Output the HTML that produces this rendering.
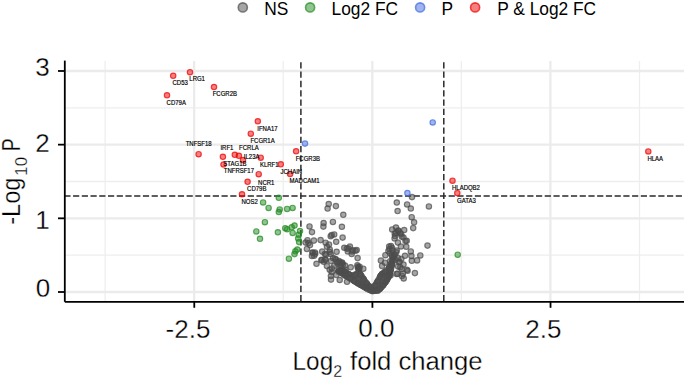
<!DOCTYPE html>
<html><head><meta charset="utf-8"><style>
html,body{margin:0;padding:0;background:#fff;width:685px;height:379px;overflow:hidden}
svg{display:block}
text{font-family:"Liberation Sans",sans-serif}
.gmin{stroke:#eeeeee;stroke-width:1.3}
.gmaj{stroke:#ebebeb;stroke-width:2.3}
.ax{stroke:#000;stroke-width:1.8;stroke-linecap:butt}
.dsh{stroke:#2a2a2a;stroke-width:1.5}
.lab text{font-size:6.55px;fill:#000;stroke:#000;stroke-width:.18px}
.leg{font-size:18.5px;fill:#000}
.tk{font-size:26px;fill:#000;stroke:#fff;stroke-width:.3px}
</style></head><body>
<svg width="685" height="379" viewBox="0 0 685 379">
<g><line x1="105.11" y1="61.0" x2="105.11" y2="301.8" class="gmin"/><line x1="283.24" y1="61.0" x2="283.24" y2="301.8" class="gmin"/><line x1="461.36" y1="61.0" x2="461.36" y2="301.8" class="gmin"/><line x1="639.49" y1="61.0" x2="639.49" y2="301.8" class="gmin"/><line x1="64.8" y1="255.16" x2="684" y2="255.16" class="gmin"/><line x1="64.8" y1="181.50" x2="684" y2="181.50" class="gmin"/><line x1="64.8" y1="107.82" x2="684" y2="107.82" class="gmin"/><line x1="194.18" y1="61.0" x2="194.18" y2="301.8" class="gmaj"/><line x1="372.30" y1="61.0" x2="372.30" y2="301.8" class="gmaj"/><line x1="550.42" y1="61.0" x2="550.42" y2="301.8" class="gmaj"/><line x1="64.8" y1="292.00" x2="684" y2="292.00" class="gmaj"/><line x1="64.8" y1="218.33" x2="684" y2="218.33" class="gmaj"/><line x1="64.8" y1="144.66" x2="684" y2="144.66" class="gmaj"/><line x1="64.8" y1="70.99" x2="684" y2="70.99" class="gmaj"/></g>
<g><line x1="64.3" y1="196.1" x2="684" y2="196.1" class="dsh" stroke-dasharray="6.2 2.535"/><line x1="300.9" y1="62.2" x2="300.9" y2="301.8" class="dsh" stroke-dasharray="6.3 3.016"/><line x1="443.8" y1="62.2" x2="443.8" y2="301.8" class="dsh" stroke-dasharray="6.3 3.016"/></g>
<g><path d="M335.3,271.4 L336.8,269.1 L339.9,267.5 L344.5,268.3 L348.3,270.6 L352.1,272.9 L355.9,271.4 L356.7,265.5 L358.5,263.8 L360.5,265.2 L361.3,270.6 L364.4,275.2 L367.4,279.8 L370.5,283.6 L372,285.1 L373.5,282.8 L376.6,277.5 L378.9,273 L381.5,270.8 L385.7,267.9 L388,264.1 L390.3,259.5 L391.5,255 L392.5,252 L395,254 L395.2,262.5 L393.8,268.7 L392,276.3 L388.8,282.4 L384.2,288.6 L379.6,293 L375.1,293.5 L372,293.9 L366.5,291.6 L361,288.3 L355.2,285 L350.6,282 L346.5,279.5 L341.4,276.5 L337.6,273.5 Z" fill="#565656" stroke="#565656" stroke-width="1" stroke-linejoin="round"/><circle cx="338.5" cy="271.8" r="2.7" fill="#4d4d4d" fill-opacity=".5" stroke="#4d4d4d" stroke-opacity="0.72" stroke-width="1.15"/><circle cx="339.7" cy="270.9" r="2.7" fill="#4d4d4d" fill-opacity=".5" stroke="#4d4d4d" stroke-opacity="0.72" stroke-width="1.15"/><circle cx="341.7" cy="270.8" r="2.7" fill="#4d4d4d" fill-opacity=".5" stroke="#4d4d4d" stroke-opacity="0.72" stroke-width="1.15"/><circle cx="344.9" cy="271.9" r="2.7" fill="#4d4d4d" fill-opacity=".5" stroke="#4d4d4d" stroke-opacity="0.72" stroke-width="1.15"/><circle cx="348.7" cy="274.2" r="2.7" fill="#4d4d4d" fill-opacity=".5" stroke="#4d4d4d" stroke-opacity="0.72" stroke-width="1.15"/><circle cx="355.1" cy="274.8" r="2.7" fill="#4d4d4d" fill-opacity=".5" stroke="#4d4d4d" stroke-opacity="0.72" stroke-width="1.15"/><circle cx="359.2" cy="268.8" r="2.7" fill="#4d4d4d" fill-opacity=".5" stroke="#4d4d4d" stroke-opacity="0.72" stroke-width="1.15"/><circle cx="359.6" cy="266.8" r="2.7" fill="#4d4d4d" fill-opacity=".5" stroke="#4d4d4d" stroke-opacity="0.72" stroke-width="1.15"/><circle cx="357.8" cy="266.9" r="2.7" fill="#4d4d4d" fill-opacity=".5" stroke="#4d4d4d" stroke-opacity="0.72" stroke-width="1.15"/><circle cx="358.0" cy="268.3" r="2.7" fill="#4d4d4d" fill-opacity=".5" stroke="#4d4d4d" stroke-opacity="0.72" stroke-width="1.15"/><circle cx="360.4" cy="274.5" r="2.7" fill="#4d4d4d" fill-opacity=".5" stroke="#4d4d4d" stroke-opacity="0.72" stroke-width="1.15"/><circle cx="363.5" cy="279.1" r="2.7" fill="#4d4d4d" fill-opacity=".5" stroke="#4d4d4d" stroke-opacity="0.72" stroke-width="1.15"/><circle cx="366.7" cy="283.5" r="2.7" fill="#4d4d4d" fill-opacity=".5" stroke="#4d4d4d" stroke-opacity="0.72" stroke-width="1.15"/><circle cx="369.2" cy="286.4" r="2.7" fill="#4d4d4d" fill-opacity=".5" stroke="#4d4d4d" stroke-opacity="0.72" stroke-width="1.15"/><circle cx="375.2" cy="285.5" r="2.7" fill="#4d4d4d" fill-opacity=".5" stroke="#4d4d4d" stroke-opacity="0.72" stroke-width="1.15"/><circle cx="377.6" cy="281.6" r="2.7" fill="#4d4d4d" fill-opacity=".5" stroke="#4d4d4d" stroke-opacity="0.72" stroke-width="1.15"/><circle cx="380.3" cy="276.6" r="2.7" fill="#4d4d4d" fill-opacity=".5" stroke="#4d4d4d" stroke-opacity="0.72" stroke-width="1.15"/><circle cx="382.1" cy="274.1" r="2.7" fill="#4d4d4d" fill-opacity=".5" stroke="#4d4d4d" stroke-opacity="0.72" stroke-width="1.15"/><circle cx="385.2" cy="271.7" r="2.7" fill="#4d4d4d" fill-opacity=".5" stroke="#4d4d4d" stroke-opacity="0.72" stroke-width="1.15"/><circle cx="389.3" cy="267.5" r="2.7" fill="#4d4d4d" fill-opacity=".5" stroke="#4d4d4d" stroke-opacity="0.72" stroke-width="1.15"/><circle cx="391.7" cy="263.1" r="2.7" fill="#4d4d4d" fill-opacity=".5" stroke="#4d4d4d" stroke-opacity="0.72" stroke-width="1.15"/><circle cx="393.7" cy="258.0" r="2.7" fill="#4d4d4d" fill-opacity=".5" stroke="#4d4d4d" stroke-opacity="0.72" stroke-width="1.15"/><circle cx="394.8" cy="254.4" r="2.7" fill="#4d4d4d" fill-opacity=".5" stroke="#4d4d4d" stroke-opacity="0.72" stroke-width="1.15"/><circle cx="391.9" cy="255.3" r="2.7" fill="#4d4d4d" fill-opacity=".5" stroke="#4d4d4d" stroke-opacity="0.72" stroke-width="1.15"/><circle cx="392.2" cy="256.2" r="2.7" fill="#4d4d4d" fill-opacity=".5" stroke="#4d4d4d" stroke-opacity="0.72" stroke-width="1.15"/><circle cx="392.3" cy="260.4" r="2.7" fill="#4d4d4d" fill-opacity=".5" stroke="#4d4d4d" stroke-opacity="0.72" stroke-width="1.15"/><circle cx="391.7" cy="265.0" r="2.7" fill="#4d4d4d" fill-opacity=".5" stroke="#4d4d4d" stroke-opacity="0.72" stroke-width="1.15"/><circle cx="390.5" cy="269.9" r="2.7" fill="#4d4d4d" fill-opacity=".5" stroke="#4d4d4d" stroke-opacity="0.72" stroke-width="1.15"/><circle cx="389.6" cy="273.7" r="2.7" fill="#4d4d4d" fill-opacity=".5" stroke="#4d4d4d" stroke-opacity="0.72" stroke-width="1.15"/><circle cx="388.6" cy="276.5" r="2.7" fill="#4d4d4d" fill-opacity=".5" stroke="#4d4d4d" stroke-opacity="0.72" stroke-width="1.15"/><circle cx="387.0" cy="279.5" r="2.7" fill="#4d4d4d" fill-opacity=".5" stroke="#4d4d4d" stroke-opacity="0.72" stroke-width="1.15"/><circle cx="385.3" cy="282.2" r="2.7" fill="#4d4d4d" fill-opacity=".5" stroke="#4d4d4d" stroke-opacity="0.72" stroke-width="1.15"/><circle cx="383.0" cy="285.3" r="2.7" fill="#4d4d4d" fill-opacity=".5" stroke="#4d4d4d" stroke-opacity="0.72" stroke-width="1.15"/><circle cx="379.9" cy="288.7" r="2.7" fill="#4d4d4d" fill-opacity=".5" stroke="#4d4d4d" stroke-opacity="0.72" stroke-width="1.15"/><circle cx="377.0" cy="290.4" r="2.7" fill="#4d4d4d" fill-opacity=".5" stroke="#4d4d4d" stroke-opacity="0.72" stroke-width="1.15"/><circle cx="373.2" cy="290.8" r="2.7" fill="#4d4d4d" fill-opacity=".5" stroke="#4d4d4d" stroke-opacity="0.72" stroke-width="1.15"/><circle cx="370.4" cy="290.1" r="2.7" fill="#4d4d4d" fill-opacity=".5" stroke="#4d4d4d" stroke-opacity="0.72" stroke-width="1.15"/><circle cx="366.6" cy="288.3" r="2.7" fill="#4d4d4d" fill-opacity=".5" stroke="#4d4d4d" stroke-opacity="0.72" stroke-width="1.15"/><circle cx="363.9" cy="286.6" r="2.7" fill="#4d4d4d" fill-opacity=".5" stroke="#4d4d4d" stroke-opacity="0.72" stroke-width="1.15"/><circle cx="361.0" cy="285.0" r="2.7" fill="#4d4d4d" fill-opacity=".5" stroke="#4d4d4d" stroke-opacity="0.72" stroke-width="1.15"/><circle cx="358.1" cy="283.3" r="2.7" fill="#4d4d4d" fill-opacity=".5" stroke="#4d4d4d" stroke-opacity="0.72" stroke-width="1.15"/><circle cx="354.5" cy="281.1" r="2.7" fill="#4d4d4d" fill-opacity=".5" stroke="#4d4d4d" stroke-opacity="0.72" stroke-width="1.15"/><circle cx="350.1" cy="278.3" r="2.7" fill="#4d4d4d" fill-opacity=".5" stroke="#4d4d4d" stroke-opacity="0.72" stroke-width="1.15"/><circle cx="345.4" cy="275.5" r="2.7" fill="#4d4d4d" fill-opacity=".5" stroke="#4d4d4d" stroke-opacity="0.72" stroke-width="1.15"/><circle cx="341.3" cy="272.7" r="2.7" fill="#4d4d4d" fill-opacity=".5" stroke="#4d4d4d" stroke-opacity="0.72" stroke-width="1.15"/><circle cx="338.4" cy="270.3" r="2.7" fill="#4d4d4d" fill-opacity=".5" stroke="#4d4d4d" stroke-opacity="0.72" stroke-width="1.15"/><circle cx="328.7" cy="204.0" r="2.7" fill="#4d4d4d" fill-opacity=".5" stroke="#4d4d4d" stroke-opacity="0.72" stroke-width="1.15"/><circle cx="327.6" cy="208.5" r="2.7" fill="#4d4d4d" fill-opacity=".5" stroke="#4d4d4d" stroke-opacity="0.72" stroke-width="1.15"/><circle cx="335.9" cy="206.1" r="2.7" fill="#4d4d4d" fill-opacity=".5" stroke="#4d4d4d" stroke-opacity="0.72" stroke-width="1.15"/><circle cx="343.3" cy="214.8" r="2.7" fill="#4d4d4d" fill-opacity=".5" stroke="#4d4d4d" stroke-opacity="0.72" stroke-width="1.15"/><circle cx="323.6" cy="223.0" r="2.7" fill="#4d4d4d" fill-opacity=".5" stroke="#4d4d4d" stroke-opacity="0.72" stroke-width="1.15"/><circle cx="323.4" cy="226.6" r="2.7" fill="#4d4d4d" fill-opacity=".5" stroke="#4d4d4d" stroke-opacity="0.72" stroke-width="1.15"/><circle cx="332.9" cy="221.9" r="2.7" fill="#4d4d4d" fill-opacity=".5" stroke="#4d4d4d" stroke-opacity="0.72" stroke-width="1.15"/><circle cx="309.5" cy="226.4" r="2.7" fill="#4d4d4d" fill-opacity=".5" stroke="#4d4d4d" stroke-opacity="0.72" stroke-width="1.15"/><circle cx="312.0" cy="232.1" r="2.7" fill="#4d4d4d" fill-opacity=".5" stroke="#4d4d4d" stroke-opacity="0.72" stroke-width="1.15"/><circle cx="341.9" cy="226.8" r="2.7" fill="#4d4d4d" fill-opacity=".5" stroke="#4d4d4d" stroke-opacity="0.72" stroke-width="1.15"/><circle cx="331.7" cy="234.9" r="2.7" fill="#4d4d4d" fill-opacity=".5" stroke="#4d4d4d" stroke-opacity="0.72" stroke-width="1.15"/><circle cx="334.2" cy="234.4" r="2.7" fill="#4d4d4d" fill-opacity=".5" stroke="#4d4d4d" stroke-opacity="0.72" stroke-width="1.15"/><circle cx="412.0" cy="197.1" r="2.7" fill="#4d4d4d" fill-opacity=".5" stroke="#4d4d4d" stroke-opacity="0.72" stroke-width="1.15"/><circle cx="396.8" cy="202.5" r="2.7" fill="#4d4d4d" fill-opacity=".5" stroke="#4d4d4d" stroke-opacity="0.72" stroke-width="1.15"/><circle cx="407.1" cy="204.4" r="2.7" fill="#4d4d4d" fill-opacity=".5" stroke="#4d4d4d" stroke-opacity="0.72" stroke-width="1.15"/><circle cx="410.8" cy="208.5" r="2.7" fill="#4d4d4d" fill-opacity=".5" stroke="#4d4d4d" stroke-opacity="0.72" stroke-width="1.15"/><circle cx="428.9" cy="206.4" r="2.7" fill="#4d4d4d" fill-opacity=".5" stroke="#4d4d4d" stroke-opacity="0.72" stroke-width="1.15"/><circle cx="397.6" cy="211.0" r="2.7" fill="#4d4d4d" fill-opacity=".5" stroke="#4d4d4d" stroke-opacity="0.72" stroke-width="1.15"/><circle cx="411.7" cy="217.2" r="2.7" fill="#4d4d4d" fill-opacity=".5" stroke="#4d4d4d" stroke-opacity="0.72" stroke-width="1.15"/><circle cx="414.1" cy="222.3" r="2.7" fill="#4d4d4d" fill-opacity=".5" stroke="#4d4d4d" stroke-opacity="0.72" stroke-width="1.15"/><circle cx="413.2" cy="228.1" r="2.7" fill="#4d4d4d" fill-opacity=".5" stroke="#4d4d4d" stroke-opacity="0.72" stroke-width="1.15"/><circle cx="392.2" cy="229.4" r="2.7" fill="#4d4d4d" fill-opacity=".5" stroke="#4d4d4d" stroke-opacity="0.72" stroke-width="1.15"/><circle cx="398.2" cy="230.4" r="2.7" fill="#4d4d4d" fill-opacity=".5" stroke="#4d4d4d" stroke-opacity="0.72" stroke-width="1.15"/><circle cx="404.2" cy="230.0" r="2.7" fill="#4d4d4d" fill-opacity=".5" stroke="#4d4d4d" stroke-opacity="0.72" stroke-width="1.15"/><circle cx="342.6" cy="237.6" r="2.7" fill="#4d4d4d" fill-opacity=".5" stroke="#4d4d4d" stroke-opacity="0.72" stroke-width="1.15"/><circle cx="336.2" cy="241.8" r="2.7" fill="#4d4d4d" fill-opacity=".5" stroke="#4d4d4d" stroke-opacity="0.72" stroke-width="1.15"/><circle cx="320.6" cy="240.1" r="2.7" fill="#4d4d4d" fill-opacity=".5" stroke="#4d4d4d" stroke-opacity="0.72" stroke-width="1.15"/><circle cx="313.9" cy="240.6" r="2.7" fill="#4d4d4d" fill-opacity=".5" stroke="#4d4d4d" stroke-opacity="0.72" stroke-width="1.15"/><circle cx="305.6" cy="242.6" r="2.7" fill="#4d4d4d" fill-opacity=".5" stroke="#4d4d4d" stroke-opacity="0.72" stroke-width="1.15"/><circle cx="310.0" cy="245.1" r="2.7" fill="#4d4d4d" fill-opacity=".5" stroke="#4d4d4d" stroke-opacity="0.72" stroke-width="1.15"/><circle cx="325.6" cy="242.7" r="2.7" fill="#4d4d4d" fill-opacity=".5" stroke="#4d4d4d" stroke-opacity="0.72" stroke-width="1.15"/><circle cx="327.0" cy="246.8" r="2.7" fill="#4d4d4d" fill-opacity=".5" stroke="#4d4d4d" stroke-opacity="0.72" stroke-width="1.15"/><circle cx="322.2" cy="251.6" r="2.7" fill="#4d4d4d" fill-opacity=".5" stroke="#4d4d4d" stroke-opacity="0.72" stroke-width="1.15"/><circle cx="329.8" cy="249.6" r="2.7" fill="#4d4d4d" fill-opacity=".5" stroke="#4d4d4d" stroke-opacity="0.72" stroke-width="1.15"/><circle cx="336.6" cy="251.8" r="2.7" fill="#4d4d4d" fill-opacity=".5" stroke="#4d4d4d" stroke-opacity="0.72" stroke-width="1.15"/><circle cx="312.4" cy="252.6" r="2.7" fill="#4d4d4d" fill-opacity=".5" stroke="#4d4d4d" stroke-opacity="0.72" stroke-width="1.15"/><circle cx="314.1" cy="255.7" r="2.7" fill="#4d4d4d" fill-opacity=".5" stroke="#4d4d4d" stroke-opacity="0.72" stroke-width="1.15"/><circle cx="344.3" cy="247.8" r="2.7" fill="#4d4d4d" fill-opacity=".5" stroke="#4d4d4d" stroke-opacity="0.72" stroke-width="1.15"/><circle cx="349.9" cy="246.6" r="2.7" fill="#4d4d4d" fill-opacity=".5" stroke="#4d4d4d" stroke-opacity="0.72" stroke-width="1.15"/><circle cx="353.1" cy="250.3" r="2.7" fill="#4d4d4d" fill-opacity=".5" stroke="#4d4d4d" stroke-opacity="0.72" stroke-width="1.15"/><circle cx="356.7" cy="249.9" r="2.7" fill="#4d4d4d" fill-opacity=".5" stroke="#4d4d4d" stroke-opacity="0.72" stroke-width="1.15"/><circle cx="351.7" cy="253.9" r="2.7" fill="#4d4d4d" fill-opacity=".5" stroke="#4d4d4d" stroke-opacity="0.72" stroke-width="1.15"/><circle cx="357.6" cy="258.1" r="2.7" fill="#4d4d4d" fill-opacity=".5" stroke="#4d4d4d" stroke-opacity="0.72" stroke-width="1.15"/><circle cx="321.7" cy="259.8" r="2.7" fill="#4d4d4d" fill-opacity=".5" stroke="#4d4d4d" stroke-opacity="0.72" stroke-width="1.15"/><circle cx="325.6" cy="260.1" r="2.7" fill="#4d4d4d" fill-opacity=".5" stroke="#4d4d4d" stroke-opacity="0.72" stroke-width="1.15"/><circle cx="316.5" cy="263.8" r="2.7" fill="#4d4d4d" fill-opacity=".5" stroke="#4d4d4d" stroke-opacity="0.72" stroke-width="1.15"/><circle cx="335.0" cy="258.7" r="2.7" fill="#4d4d4d" fill-opacity=".5" stroke="#4d4d4d" stroke-opacity="0.72" stroke-width="1.15"/><circle cx="339.8" cy="262.4" r="2.7" fill="#4d4d4d" fill-opacity=".5" stroke="#4d4d4d" stroke-opacity="0.72" stroke-width="1.15"/><circle cx="326.9" cy="266.1" r="2.7" fill="#4d4d4d" fill-opacity=".5" stroke="#4d4d4d" stroke-opacity="0.72" stroke-width="1.15"/><circle cx="331.9" cy="268.6" r="2.7" fill="#4d4d4d" fill-opacity=".5" stroke="#4d4d4d" stroke-opacity="0.72" stroke-width="1.15"/><circle cx="340.4" cy="265.4" r="2.7" fill="#4d4d4d" fill-opacity=".5" stroke="#4d4d4d" stroke-opacity="0.72" stroke-width="1.15"/><circle cx="350.7" cy="267.3" r="2.7" fill="#4d4d4d" fill-opacity=".5" stroke="#4d4d4d" stroke-opacity="0.72" stroke-width="1.15"/><circle cx="342.0" cy="270.9" r="2.7" fill="#4d4d4d" fill-opacity=".5" stroke="#4d4d4d" stroke-opacity="0.72" stroke-width="1.15"/><circle cx="345.7" cy="273.9" r="2.7" fill="#4d4d4d" fill-opacity=".5" stroke="#4d4d4d" stroke-opacity="0.72" stroke-width="1.15"/><circle cx="330.9" cy="276.0" r="2.7" fill="#4d4d4d" fill-opacity=".5" stroke="#4d4d4d" stroke-opacity="0.72" stroke-width="1.15"/><circle cx="339.7" cy="280.0" r="2.7" fill="#4d4d4d" fill-opacity=".5" stroke="#4d4d4d" stroke-opacity="0.72" stroke-width="1.15"/><circle cx="347.0" cy="281.8" r="2.7" fill="#4d4d4d" fill-opacity=".5" stroke="#4d4d4d" stroke-opacity="0.72" stroke-width="1.15"/><circle cx="357.4" cy="265.3" r="2.7" fill="#4d4d4d" fill-opacity=".5" stroke="#4d4d4d" stroke-opacity="0.72" stroke-width="1.15"/><circle cx="363.3" cy="268.7" r="2.7" fill="#4d4d4d" fill-opacity=".5" stroke="#4d4d4d" stroke-opacity="0.72" stroke-width="1.15"/><circle cx="330.7" cy="236.2" r="2.7" fill="#4d4d4d" fill-opacity=".5" stroke="#4d4d4d" stroke-opacity="0.72" stroke-width="1.15"/><circle cx="347.8" cy="251.4" r="2.7" fill="#4d4d4d" fill-opacity=".5" stroke="#4d4d4d" stroke-opacity="0.72" stroke-width="1.15"/><circle cx="330.7" cy="254.0" r="2.7" fill="#4d4d4d" fill-opacity=".5" stroke="#4d4d4d" stroke-opacity="0.72" stroke-width="1.15"/><circle cx="307.5" cy="240.2" r="2.7" fill="#4d4d4d" fill-opacity=".5" stroke="#4d4d4d" stroke-opacity="0.72" stroke-width="1.15"/><circle cx="329.0" cy="244.6" r="2.7" fill="#4d4d4d" fill-opacity=".5" stroke="#4d4d4d" stroke-opacity="0.72" stroke-width="1.15"/><circle cx="306.9" cy="248.9" r="2.7" fill="#4d4d4d" fill-opacity=".5" stroke="#4d4d4d" stroke-opacity="0.72" stroke-width="1.15"/><circle cx="315.2" cy="253.8" r="2.7" fill="#4d4d4d" fill-opacity=".5" stroke="#4d4d4d" stroke-opacity="0.72" stroke-width="1.15"/><circle cx="329.7" cy="251.9" r="2.7" fill="#4d4d4d" fill-opacity=".5" stroke="#4d4d4d" stroke-opacity="0.72" stroke-width="1.15"/><circle cx="326.1" cy="254.6" r="2.7" fill="#4d4d4d" fill-opacity=".5" stroke="#4d4d4d" stroke-opacity="0.72" stroke-width="1.15"/><circle cx="346.8" cy="248.6" r="2.7" fill="#4d4d4d" fill-opacity=".5" stroke="#4d4d4d" stroke-opacity="0.72" stroke-width="1.15"/><circle cx="323.7" cy="261.7" r="2.7" fill="#4d4d4d" fill-opacity=".5" stroke="#4d4d4d" stroke-opacity="0.72" stroke-width="1.15"/><circle cx="331.0" cy="261.1" r="2.7" fill="#4d4d4d" fill-opacity=".5" stroke="#4d4d4d" stroke-opacity="0.72" stroke-width="1.15"/><circle cx="329.7" cy="269.7" r="2.7" fill="#4d4d4d" fill-opacity=".5" stroke="#4d4d4d" stroke-opacity="0.72" stroke-width="1.15"/><circle cx="334.3" cy="265.7" r="2.7" fill="#4d4d4d" fill-opacity=".5" stroke="#4d4d4d" stroke-opacity="0.72" stroke-width="1.15"/><circle cx="337.6" cy="263.7" r="2.7" fill="#4d4d4d" fill-opacity=".5" stroke="#4d4d4d" stroke-opacity="0.72" stroke-width="1.15"/><circle cx="342.9" cy="264.4" r="2.7" fill="#4d4d4d" fill-opacity=".5" stroke="#4d4d4d" stroke-opacity="0.72" stroke-width="1.15"/><circle cx="331.7" cy="272.1" r="2.7" fill="#4d4d4d" fill-opacity=".5" stroke="#4d4d4d" stroke-opacity="0.72" stroke-width="1.15"/><circle cx="331.0" cy="279.6" r="2.7" fill="#4d4d4d" fill-opacity=".5" stroke="#4d4d4d" stroke-opacity="0.72" stroke-width="1.15"/><circle cx="336.3" cy="274.9" r="2.7" fill="#4d4d4d" fill-opacity=".5" stroke="#4d4d4d" stroke-opacity="0.72" stroke-width="1.15"/><circle cx="345.5" cy="269.7" r="2.7" fill="#4d4d4d" fill-opacity=".5" stroke="#4d4d4d" stroke-opacity="0.72" stroke-width="1.15"/><circle cx="342.0" cy="262.5" r="2.7" fill="#4d4d4d" fill-opacity=".5" stroke="#4d4d4d" stroke-opacity="0.72" stroke-width="1.15"/><circle cx="394.6" cy="238.4" r="2.7" fill="#4d4d4d" fill-opacity=".5" stroke="#4d4d4d" stroke-opacity="0.72" stroke-width="1.15"/><circle cx="389.2" cy="246.5" r="2.7" fill="#4d4d4d" fill-opacity=".5" stroke="#4d4d4d" stroke-opacity="0.72" stroke-width="1.15"/><circle cx="385.4" cy="255.2" r="2.7" fill="#4d4d4d" fill-opacity=".5" stroke="#4d4d4d" stroke-opacity="0.72" stroke-width="1.15"/><circle cx="380.9" cy="260.6" r="2.7" fill="#4d4d4d" fill-opacity=".5" stroke="#4d4d4d" stroke-opacity="0.72" stroke-width="1.15"/><circle cx="382.1" cy="265.9" r="2.7" fill="#4d4d4d" fill-opacity=".5" stroke="#4d4d4d" stroke-opacity="0.72" stroke-width="1.15"/><circle cx="385.0" cy="262.7" r="2.7" fill="#4d4d4d" fill-opacity=".5" stroke="#4d4d4d" stroke-opacity="0.72" stroke-width="1.15"/><circle cx="400.0" cy="233.0" r="2.7" fill="#4d4d4d" fill-opacity=".5" stroke="#4d4d4d" stroke-opacity="0.72" stroke-width="1.15"/><circle cx="401.7" cy="236.6" r="2.7" fill="#4d4d4d" fill-opacity=".5" stroke="#4d4d4d" stroke-opacity="0.72" stroke-width="1.15"/><circle cx="406.7" cy="240.7" r="2.7" fill="#4d4d4d" fill-opacity=".5" stroke="#4d4d4d" stroke-opacity="0.72" stroke-width="1.15"/><circle cx="397.9" cy="242.6" r="2.7" fill="#4d4d4d" fill-opacity=".5" stroke="#4d4d4d" stroke-opacity="0.72" stroke-width="1.15"/><circle cx="400.9" cy="246.4" r="2.7" fill="#4d4d4d" fill-opacity=".5" stroke="#4d4d4d" stroke-opacity="0.72" stroke-width="1.15"/><circle cx="406.3" cy="246.8" r="2.7" fill="#4d4d4d" fill-opacity=".5" stroke="#4d4d4d" stroke-opacity="0.72" stroke-width="1.15"/><circle cx="427.5" cy="245.6" r="2.7" fill="#4d4d4d" fill-opacity=".5" stroke="#4d4d4d" stroke-opacity="0.72" stroke-width="1.15"/><circle cx="388.4" cy="250.9" r="2.7" fill="#4d4d4d" fill-opacity=".5" stroke="#4d4d4d" stroke-opacity="0.72" stroke-width="1.15"/><circle cx="396.2" cy="252.3" r="2.7" fill="#4d4d4d" fill-opacity=".5" stroke="#4d4d4d" stroke-opacity="0.72" stroke-width="1.15"/><circle cx="410.8" cy="251.4" r="2.7" fill="#4d4d4d" fill-opacity=".5" stroke="#4d4d4d" stroke-opacity="0.72" stroke-width="1.15"/><circle cx="411.4" cy="255.9" r="2.7" fill="#4d4d4d" fill-opacity=".5" stroke="#4d4d4d" stroke-opacity="0.72" stroke-width="1.15"/><circle cx="420.3" cy="255.4" r="2.7" fill="#4d4d4d" fill-opacity=".5" stroke="#4d4d4d" stroke-opacity="0.72" stroke-width="1.15"/><circle cx="417.1" cy="260.4" r="2.7" fill="#4d4d4d" fill-opacity=".5" stroke="#4d4d4d" stroke-opacity="0.72" stroke-width="1.15"/><circle cx="411.8" cy="260.8" r="2.7" fill="#4d4d4d" fill-opacity=".5" stroke="#4d4d4d" stroke-opacity="0.72" stroke-width="1.15"/><circle cx="405.0" cy="255.8" r="2.7" fill="#4d4d4d" fill-opacity=".5" stroke="#4d4d4d" stroke-opacity="0.72" stroke-width="1.15"/><circle cx="401.3" cy="259.1" r="2.7" fill="#4d4d4d" fill-opacity=".5" stroke="#4d4d4d" stroke-opacity="0.72" stroke-width="1.15"/><circle cx="398.1" cy="266.6" r="2.7" fill="#4d4d4d" fill-opacity=".5" stroke="#4d4d4d" stroke-opacity="0.72" stroke-width="1.15"/><circle cx="401.7" cy="269.0" r="2.7" fill="#4d4d4d" fill-opacity=".5" stroke="#4d4d4d" stroke-opacity="0.72" stroke-width="1.15"/><circle cx="407.6" cy="270.8" r="2.7" fill="#4d4d4d" fill-opacity=".5" stroke="#4d4d4d" stroke-opacity="0.72" stroke-width="1.15"/><circle cx="414.9" cy="273.1" r="2.7" fill="#4d4d4d" fill-opacity=".5" stroke="#4d4d4d" stroke-opacity="0.72" stroke-width="1.15"/><circle cx="401.9" cy="275.9" r="2.7" fill="#4d4d4d" fill-opacity=".5" stroke="#4d4d4d" stroke-opacity="0.72" stroke-width="1.15"/><circle cx="403.7" cy="278.5" r="2.7" fill="#4d4d4d" fill-opacity=".5" stroke="#4d4d4d" stroke-opacity="0.72" stroke-width="1.15"/><circle cx="390.6" cy="275.2" r="2.7" fill="#4d4d4d" fill-opacity=".5" stroke="#4d4d4d" stroke-opacity="0.72" stroke-width="1.15"/><circle cx="396.0" cy="227.5" r="2.7" fill="#4d4d4d" fill-opacity=".5" stroke="#4d4d4d" stroke-opacity="0.72" stroke-width="1.15"/><circle cx="394.7" cy="233.5" r="2.7" fill="#4d4d4d" fill-opacity=".5" stroke="#4d4d4d" stroke-opacity="0.72" stroke-width="1.15"/><circle cx="392.1" cy="248.0" r="2.7" fill="#4d4d4d" fill-opacity=".5" stroke="#4d4d4d" stroke-opacity="0.72" stroke-width="1.15"/><circle cx="396.7" cy="250.6" r="2.7" fill="#4d4d4d" fill-opacity=".5" stroke="#4d4d4d" stroke-opacity="0.72" stroke-width="1.15"/><circle cx="390.1" cy="253.2" r="2.7" fill="#4d4d4d" fill-opacity=".5" stroke="#4d4d4d" stroke-opacity="0.72" stroke-width="1.15"/><circle cx="394.1" cy="255.9" r="2.7" fill="#4d4d4d" fill-opacity=".5" stroke="#4d4d4d" stroke-opacity="0.72" stroke-width="1.15"/><circle cx="390.1" cy="261.2" r="2.7" fill="#4d4d4d" fill-opacity=".5" stroke="#4d4d4d" stroke-opacity="0.72" stroke-width="1.15"/><circle cx="395.4" cy="259.8" r="2.7" fill="#4d4d4d" fill-opacity=".5" stroke="#4d4d4d" stroke-opacity="0.72" stroke-width="1.15"/><circle cx="399.1" cy="262.0" r="2.7" fill="#4d4d4d" fill-opacity=".5" stroke="#4d4d4d" stroke-opacity="0.72" stroke-width="1.15"/><circle cx="396.7" cy="273.9" r="2.7" fill="#4d4d4d" fill-opacity=".5" stroke="#4d4d4d" stroke-opacity="0.72" stroke-width="1.15"/><circle cx="348.5" cy="248.5" r="2.7" fill="#4d4d4d" fill-opacity=".5" stroke="#4d4d4d" stroke-opacity="0.72" stroke-width="1.15"/><circle cx="352.0" cy="251.5" r="2.7" fill="#4d4d4d" fill-opacity=".5" stroke="#4d4d4d" stroke-opacity="0.72" stroke-width="1.15"/><circle cx="355.5" cy="250.8" r="2.7" fill="#4d4d4d" fill-opacity=".5" stroke="#4d4d4d" stroke-opacity="0.72" stroke-width="1.15"/><circle cx="400.3" cy="267.2" r="2.7" fill="#4d4d4d" fill-opacity=".5" stroke="#4d4d4d" stroke-opacity="0.72" stroke-width="1.15"/><circle cx="402.9" cy="273.7" r="2.7" fill="#4d4d4d" fill-opacity=".5" stroke="#4d4d4d" stroke-opacity="0.72" stroke-width="1.15"/><circle cx="406.9" cy="269.8" r="2.7" fill="#4d4d4d" fill-opacity=".5" stroke="#4d4d4d" stroke-opacity="0.72" stroke-width="1.15"/><circle cx="397.6" cy="273.7" r="2.7" fill="#4d4d4d" fill-opacity=".5" stroke="#4d4d4d" stroke-opacity="0.72" stroke-width="1.15"/><circle cx="398.0" cy="258.0" r="2.7" fill="#4d4d4d" fill-opacity=".5" stroke="#4d4d4d" stroke-opacity="0.72" stroke-width="1.15"/><circle cx="399.5" cy="262.0" r="2.7" fill="#4d4d4d" fill-opacity=".5" stroke="#4d4d4d" stroke-opacity="0.72" stroke-width="1.15"/><circle cx="403.5" cy="264.5" r="2.7" fill="#4d4d4d" fill-opacity=".5" stroke="#4d4d4d" stroke-opacity="0.72" stroke-width="1.15"/><circle cx="312.7" cy="252.8" r="2.7" fill="#4d4d4d" fill-opacity=".5" stroke="#4d4d4d" stroke-opacity="0.72" stroke-width="1.15"/><circle cx="315.0" cy="252.4" r="2.7" fill="#4d4d4d" fill-opacity=".5" stroke="#4d4d4d" stroke-opacity="0.72" stroke-width="1.15"/><circle cx="311.9" cy="256.0" r="2.7" fill="#4d4d4d" fill-opacity=".5" stroke="#4d4d4d" stroke-opacity="0.72" stroke-width="1.15"/><circle cx="308.5" cy="243.0" r="2.7" fill="#4d4d4d" fill-opacity=".5" stroke="#4d4d4d" stroke-opacity="0.72" stroke-width="1.15"/><circle cx="324.9" cy="254.0" r="2.7" fill="#4d4d4d" fill-opacity=".5" stroke="#4d4d4d" stroke-opacity="0.72" stroke-width="1.15"/><circle cx="321.4" cy="260.3" r="2.7" fill="#4d4d4d" fill-opacity=".5" stroke="#4d4d4d" stroke-opacity="0.72" stroke-width="1.15"/><circle cx="325.3" cy="259.5" r="2.7" fill="#4d4d4d" fill-opacity=".5" stroke="#4d4d4d" stroke-opacity="0.72" stroke-width="1.15"/><circle cx="333.0" cy="258.0" r="2.7" fill="#4d4d4d" fill-opacity=".5" stroke="#4d4d4d" stroke-opacity="0.72" stroke-width="1.15"/><circle cx="336.0" cy="259.5" r="2.7" fill="#4d4d4d" fill-opacity=".5" stroke="#4d4d4d" stroke-opacity="0.72" stroke-width="1.15"/><circle cx="339.0" cy="261.0" r="2.7" fill="#4d4d4d" fill-opacity=".5" stroke="#4d4d4d" stroke-opacity="0.72" stroke-width="1.15"/><circle cx="342.0" cy="263.0" r="2.7" fill="#4d4d4d" fill-opacity=".5" stroke="#4d4d4d" stroke-opacity="0.72" stroke-width="1.15"/><circle cx="345.0" cy="265.5" r="2.7" fill="#4d4d4d" fill-opacity=".5" stroke="#4d4d4d" stroke-opacity="0.72" stroke-width="1.15"/><circle cx="337.0" cy="262.0" r="2.7" fill="#4d4d4d" fill-opacity=".5" stroke="#4d4d4d" stroke-opacity="0.72" stroke-width="1.15"/><circle cx="341.0" cy="265.0" r="2.7" fill="#4d4d4d" fill-opacity=".5" stroke="#4d4d4d" stroke-opacity="0.72" stroke-width="1.15"/><circle cx="398.5" cy="231.0" r="2.7" fill="#4d4d4d" fill-opacity=".5" stroke="#4d4d4d" stroke-opacity="0.72" stroke-width="1.15"/><circle cx="401.0" cy="234.0" r="2.7" fill="#4d4d4d" fill-opacity=".5" stroke="#4d4d4d" stroke-opacity="0.72" stroke-width="1.15"/><circle cx="403.5" cy="237.5" r="2.7" fill="#4d4d4d" fill-opacity=".5" stroke="#4d4d4d" stroke-opacity="0.72" stroke-width="1.15"/><circle cx="405.5" cy="241.0" r="2.7" fill="#4d4d4d" fill-opacity=".5" stroke="#4d4d4d" stroke-opacity="0.72" stroke-width="1.15"/><circle cx="396.0" cy="233.0" r="2.7" fill="#4d4d4d" fill-opacity=".5" stroke="#4d4d4d" stroke-opacity="0.72" stroke-width="1.15"/><circle cx="391.0" cy="246.0" r="2.7" fill="#4d4d4d" fill-opacity=".5" stroke="#4d4d4d" stroke-opacity="0.72" stroke-width="1.15"/><circle cx="389.5" cy="249.0" r="2.7" fill="#4d4d4d" fill-opacity=".5" stroke="#4d4d4d" stroke-opacity="0.72" stroke-width="1.15"/><circle cx="392.5" cy="250.5" r="2.7" fill="#4d4d4d" fill-opacity=".5" stroke="#4d4d4d" stroke-opacity="0.72" stroke-width="1.15"/><circle cx="395.0" cy="236.0" r="2.7" fill="#4d4d4d" fill-opacity=".5" stroke="#4d4d4d" stroke-opacity="0.72" stroke-width="1.15"/><circle cx="278.8" cy="197.8" r="2.7" fill="#228b22" fill-opacity=".5" stroke="#228b22" stroke-opacity="0.72" stroke-width="1.15"/><circle cx="263.1" cy="202.4" r="2.7" fill="#228b22" fill-opacity=".5" stroke="#228b22" stroke-opacity="0.72" stroke-width="1.15"/><circle cx="268.6" cy="207.9" r="2.7" fill="#228b22" fill-opacity=".5" stroke="#228b22" stroke-opacity="0.72" stroke-width="1.15"/><circle cx="279.7" cy="209.4" r="2.7" fill="#228b22" fill-opacity=".5" stroke="#228b22" stroke-opacity="0.72" stroke-width="1.15"/><circle cx="278.8" cy="212.0" r="2.7" fill="#228b22" fill-opacity=".5" stroke="#228b22" stroke-opacity="0.72" stroke-width="1.15"/><circle cx="287.1" cy="208.9" r="2.7" fill="#228b22" fill-opacity=".5" stroke="#228b22" stroke-opacity="0.72" stroke-width="1.15"/><circle cx="292.6" cy="207.9" r="2.7" fill="#228b22" fill-opacity=".5" stroke="#228b22" stroke-opacity="0.72" stroke-width="1.15"/><circle cx="264.9" cy="222.2" r="2.7" fill="#228b22" fill-opacity=".5" stroke="#228b22" stroke-opacity="0.72" stroke-width="1.15"/><circle cx="256.3" cy="231.4" r="2.7" fill="#228b22" fill-opacity=".5" stroke="#228b22" stroke-opacity="0.72" stroke-width="1.15"/><circle cx="277.9" cy="232.3" r="2.7" fill="#228b22" fill-opacity=".5" stroke="#228b22" stroke-opacity="0.72" stroke-width="1.15"/><circle cx="260.0" cy="238.8" r="2.7" fill="#228b22" fill-opacity=".5" stroke="#228b22" stroke-opacity="0.72" stroke-width="1.15"/><circle cx="285.3" cy="228.2" r="2.7" fill="#228b22" fill-opacity=".5" stroke="#228b22" stroke-opacity="0.72" stroke-width="1.15"/><circle cx="287.1" cy="229.2" r="2.7" fill="#228b22" fill-opacity=".5" stroke="#228b22" stroke-opacity="0.72" stroke-width="1.15"/><circle cx="291.7" cy="227.3" r="2.7" fill="#228b22" fill-opacity=".5" stroke="#228b22" stroke-opacity="0.72" stroke-width="1.15"/><circle cx="294.5" cy="225.5" r="2.7" fill="#228b22" fill-opacity=".5" stroke="#228b22" stroke-opacity="0.72" stroke-width="1.15"/><circle cx="292.6" cy="232.9" r="2.7" fill="#228b22" fill-opacity=".5" stroke="#228b22" stroke-opacity="0.72" stroke-width="1.15"/><circle cx="300.0" cy="231.0" r="2.7" fill="#228b22" fill-opacity=".5" stroke="#228b22" stroke-opacity="0.72" stroke-width="1.15"/><circle cx="298.7" cy="234.7" r="2.7" fill="#228b22" fill-opacity=".5" stroke="#228b22" stroke-opacity="0.72" stroke-width="1.15"/><circle cx="298.2" cy="238.4" r="2.7" fill="#228b22" fill-opacity=".5" stroke="#228b22" stroke-opacity="0.72" stroke-width="1.15"/><circle cx="299.1" cy="242.1" r="2.7" fill="#228b22" fill-opacity=".5" stroke="#228b22" stroke-opacity="0.72" stroke-width="1.15"/><circle cx="297.3" cy="249.5" r="2.7" fill="#228b22" fill-opacity=".5" stroke="#228b22" stroke-opacity="0.72" stroke-width="1.15"/><circle cx="295.4" cy="251.3" r="2.7" fill="#228b22" fill-opacity=".5" stroke="#228b22" stroke-opacity="0.72" stroke-width="1.15"/><circle cx="294.5" cy="254.1" r="2.7" fill="#228b22" fill-opacity=".5" stroke="#228b22" stroke-opacity="0.72" stroke-width="1.15"/><circle cx="288.9" cy="258.7" r="2.7" fill="#228b22" fill-opacity=".5" stroke="#228b22" stroke-opacity="0.72" stroke-width="1.15"/><circle cx="457.7" cy="254.7" r="2.7" fill="#228b22" fill-opacity=".5" stroke="#228b22" stroke-opacity="0.72" stroke-width="1.15"/><circle cx="305.0" cy="143.6" r="2.7" fill="#4169e1" fill-opacity=".5" stroke="#4169e1" stroke-opacity="0.72" stroke-width="1.15"/><circle cx="432.7" cy="122.4" r="2.7" fill="#4169e1" fill-opacity=".5" stroke="#4169e1" stroke-opacity="0.72" stroke-width="1.15"/><circle cx="407.4" cy="193.0" r="2.7" fill="#4169e1" fill-opacity=".5" stroke="#4169e1" stroke-opacity="0.72" stroke-width="1.15"/><circle cx="190.0" cy="72.2" r="2.7" fill="#ee0000" fill-opacity=".5" stroke="#ee0000" stroke-opacity="0.72" stroke-width="1.15"/><circle cx="173.2" cy="75.8" r="2.7" fill="#ee0000" fill-opacity=".5" stroke="#ee0000" stroke-opacity="0.72" stroke-width="1.15"/><circle cx="167.0" cy="95.3" r="2.7" fill="#ee0000" fill-opacity=".5" stroke="#ee0000" stroke-opacity="0.72" stroke-width="1.15"/><circle cx="214.0" cy="87.0" r="2.7" fill="#ee0000" fill-opacity=".5" stroke="#ee0000" stroke-opacity="0.72" stroke-width="1.15"/><circle cx="198.6" cy="154.2" r="2.7" fill="#ee0000" fill-opacity=".5" stroke="#ee0000" stroke-opacity="0.72" stroke-width="1.15"/><circle cx="222.9" cy="156.8" r="2.7" fill="#ee0000" fill-opacity=".5" stroke="#ee0000" stroke-opacity="0.72" stroke-width="1.15"/><circle cx="234.8" cy="154.8" r="2.7" fill="#ee0000" fill-opacity=".5" stroke="#ee0000" stroke-opacity="0.72" stroke-width="1.15"/><circle cx="238.9" cy="155.8" r="2.7" fill="#ee0000" fill-opacity=".5" stroke="#ee0000" stroke-opacity="0.72" stroke-width="1.15"/><circle cx="243.0" cy="160.0" r="2.7" fill="#ee0000" fill-opacity=".5" stroke="#ee0000" stroke-opacity="0.72" stroke-width="1.15"/><circle cx="223.5" cy="164.4" r="2.7" fill="#ee0000" fill-opacity=".5" stroke="#ee0000" stroke-opacity="0.72" stroke-width="1.15"/><circle cx="257.8" cy="121.3" r="2.7" fill="#ee0000" fill-opacity=".5" stroke="#ee0000" stroke-opacity="0.72" stroke-width="1.15"/><circle cx="250.8" cy="133.7" r="2.7" fill="#ee0000" fill-opacity=".5" stroke="#ee0000" stroke-opacity="0.72" stroke-width="1.15"/><circle cx="260.7" cy="157.7" r="2.7" fill="#ee0000" fill-opacity=".5" stroke="#ee0000" stroke-opacity="0.72" stroke-width="1.15"/><circle cx="280.8" cy="164.3" r="2.7" fill="#ee0000" fill-opacity=".5" stroke="#ee0000" stroke-opacity="0.72" stroke-width="1.15"/><circle cx="290.1" cy="173.9" r="2.7" fill="#ee0000" fill-opacity=".5" stroke="#ee0000" stroke-opacity="0.72" stroke-width="1.15"/><circle cx="258.7" cy="174.2" r="2.7" fill="#ee0000" fill-opacity=".5" stroke="#ee0000" stroke-opacity="0.72" stroke-width="1.15"/><circle cx="247.6" cy="181.8" r="2.7" fill="#ee0000" fill-opacity=".5" stroke="#ee0000" stroke-opacity="0.72" stroke-width="1.15"/><circle cx="242.0" cy="194.3" r="2.7" fill="#ee0000" fill-opacity=".5" stroke="#ee0000" stroke-opacity="0.72" stroke-width="1.15"/><circle cx="296.1" cy="151.3" r="2.7" fill="#ee0000" fill-opacity=".5" stroke="#ee0000" stroke-opacity="0.72" stroke-width="1.15"/><circle cx="452.5" cy="180.7" r="2.7" fill="#ee0000" fill-opacity=".5" stroke="#ee0000" stroke-opacity="0.72" stroke-width="1.15"/><circle cx="457.3" cy="193.1" r="2.7" fill="#ee0000" fill-opacity=".5" stroke="#ee0000" stroke-opacity="0.72" stroke-width="1.15"/><circle cx="648.3" cy="151.4" r="2.7" fill="#ee0000" fill-opacity=".5" stroke="#ee0000" stroke-opacity="0.72" stroke-width="1.15"/></g>
<g class="lab"><text transform="translate(189.31,81.10) scale(0.915,1)">LRG1</text><text transform="translate(172.50,84.90) scale(0.915,1)">CD53</text><text transform="translate(166.60,104.50) scale(0.915,1)">CD79A</text><text transform="translate(212.71,95.90) scale(0.915,1)">FCGR2B</text><text transform="translate(185.67,145.90) scale(0.915,1)">TNFSF18</text><text transform="translate(220.45,149.80) scale(0.915,1)">IRF1</text><text transform="translate(239.11,149.80) scale(0.915,1)">FCRLA</text><text transform="translate(243.85,158.90) scale(0.915,1)">IL23A</text><text transform="translate(223.33,166.20) scale(0.915,1)">STAG1B</text><text transform="translate(223.77,173.20) scale(0.915,1)">TNFRSF17</text><text transform="translate(257.25,130.70) scale(0.915,1)">IFNA17</text><text transform="translate(250.41,142.90) scale(0.915,1)">FCGR1A</text><text transform="translate(259.91,167.20) scale(0.915,1)">KLRF1</text><text transform="translate(280.51,173.80) scale(0.915,1)">JCHAIN</text><text transform="translate(289.61,182.70) scale(0.915,1)">MADCAM1</text><text transform="translate(258.11,184.50) scale(0.915,1)">NCR1</text><text transform="translate(247.10,191.10) scale(0.915,1)">CD79B</text><text transform="translate(241.51,204.10) scale(0.915,1)">NOS2</text><text transform="translate(295.71,160.60) scale(0.915,1)">FCGR3B</text><text transform="translate(452.01,190.20) scale(0.915,1)">HLADQB2</text><text transform="translate(457.00,202.50) scale(0.915,1)">GATA3</text><text transform="translate(647.41,160.90) scale(0.915,1)">HLAA</text></g>
<g><line x1="64.8" y1="60.6" x2="64.8" y2="301.8" class="ax"/><line x1="64.8" y1="301.8" x2="684" y2="301.8" class="ax"/><line x1="58" y1="292.00" x2="64.8" y2="292.00" class="ax"/><line x1="58" y1="218.33" x2="64.8" y2="218.33" class="ax"/><line x1="58" y1="144.66" x2="64.8" y2="144.66" class="ax"/><line x1="58" y1="70.99" x2="64.8" y2="70.99" class="ax"/><line x1="194.28" y1="301.8" x2="194.28" y2="307.8" class="ax"/><line x1="372.40" y1="301.8" x2="372.40" y2="307.8" class="ax"/><line x1="550.52" y1="301.8" x2="550.52" y2="307.8" class="ax"/></g>
<g><circle cx="242.8" cy="7.4" r="4.55" fill="#4d4d4d" fill-opacity=".5" stroke="#4d4d4d" stroke-opacity=".7" stroke-width="1.6"/><circle cx="310.1" cy="7.4" r="4.55" fill="#228b22" fill-opacity=".5" stroke="#228b22" stroke-opacity=".7" stroke-width="1.6"/><circle cx="420.1" cy="7.4" r="4.55" fill="#4169e1" fill-opacity=".5" stroke="#4169e1" stroke-opacity=".7" stroke-width="1.6"/><circle cx="475.1" cy="7.4" r="4.55" fill="#ee0000" fill-opacity=".5" stroke="#ee0000" stroke-opacity=".7" stroke-width="1.6"/><text transform="translate(264.18,14.6) scale(0.9377,1)" class="leg">NS</text><text transform="translate(331.58,14.6) scale(0.9377,1)" class="leg">Log2 FC</text><text transform="translate(441.38,14.6) scale(0.9377,1)" class="leg">P</text><text transform="translate(497.18,14.6) scale(0.9377,1)" class="leg">P &amp; Log2 FC</text></g>
<g class="tk">
<text x="49.8" y="75.6" text-anchor="end">3</text>
<text x="49.8" y="152.2" text-anchor="end">2</text>
<text x="49.8" y="228.7" text-anchor="end">1</text>
<text x="50.2" y="296.8" text-anchor="end">0</text>
<text x="188" y="337.6" text-anchor="middle">-2.5</text>
<text x="376.4" y="337.4" text-anchor="middle">0.0</text>
<text x="543.3" y="337.6" text-anchor="middle">2.5</text>
</g>
<g class="tk"><text transform="translate(292.61,370.1) scale(0.9350,1)" font-size="26px">Log</text><text transform="translate(333.19,376.5) scale(0.9712,1)" font-size="16.5px">2</text><text transform="translate(350.04,370.1) scale(0.9856,1)" font-size="26px">fold change</text><g transform="translate(20.4,0) rotate(-90)"><text transform="translate(-224.75,0) scale(0.9064,1)" font-size="26px">-Log</text><text transform="translate(-175.68,7.0) scale(0.9852,1)" font-size="17px">10</text><text transform="translate(-151.19,0) scale(0.7443,1)" font-size="26px">P</text></g></g>
</svg>
</body></html>
